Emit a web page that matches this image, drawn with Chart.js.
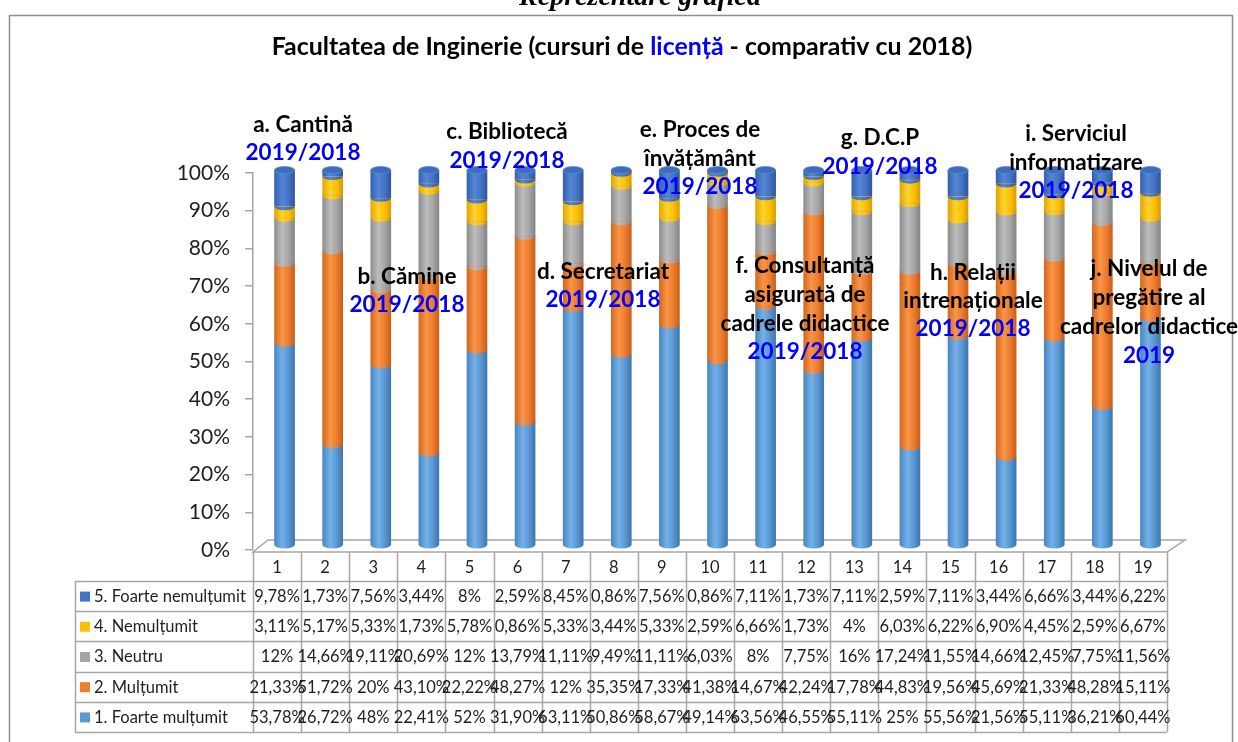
<!DOCTYPE html>
<html><head><meta charset="utf-8">
<script src="https://cdn.jsdelivr.net/npm/chart.js@4"></script>
<style>
html,body{margin:0;padding:0;background:#fff;}
#wrap{position:relative;width:1238px;height:742px;}
canvas{display:block;}
</style>
</head><body>
<div id="wrap"><canvas id="c" width="1238" height="742"></canvas></div>
<script>
// ---------- DATA ----------
const categories = ['1','2','3','4','5','6','7','8','9','10','11','12','13','14','15','16','17','18','19'];
const seriesNames = ['1. Foarte mulțumit','2. Mulțumit','3. Neutru','4. Nemulțumit','5. Foarte nemulțumit'];
const foarteMultumit   = [53.78,26.72,48,22.41,52,31.90,63.11,50.86,58.67,49.14,63.56,46.55,55.11,25,55.56,21.56,55.11,36.21,60.44];
const multumit         = [21.33,51.72,20,43.10,22.22,48.27,12,35.35,17.33,41.38,14.67,42.24,17.78,44.83,19.56,45.69,21.33,48.28,15.11];
const neutru           = [12,14.66,19.11,20.69,12,13.79,11.11,9.49,11.11,6.03,8,7.75,16,17.24,11.55,14.66,12.45,7.75,11.56];
const nemultumit       = [3.11,5.17,5.33,1.73,5.78,0.86,5.33,3.44,5.33,2.59,6.66,1.73,4,6.03,6.22,6.90,4.45,2.59,6.67];
const foarteNemultumit = [9.78,1.73,7.56,3.44,8,2.59,8.45,0.86,7.56,0.86,7.11,1.73,7.11,2.59,7.11,3.44,6.66,3.44,6.22];
const yTickValues = [0,10,20,30,40,50,60,70,80,90,100];
const titleParts = [['Facultatea de Inginerie (cursuri de ', 'k'], ['licență', 'b'], [' - comparativ cu 2018)', 'k']];
const topCaption = 'Reprezentare grafică';
// annotation text boxes: [lines, colour code]
const annotationTexts = [
  [['a. Cantină','k'],['2019/2018','b']],
  [['b. Cămine','k'],['2019/2018','b']],
  [['c. Bibliotecă','k'],['2019/2018','b']],
  [['d. Secretariat','k'],['2019/2018','b']],
  [['e. Proces de','k'],['învățământ','k'],['2019/2018','b']],
  [['f. Consultanță','k'],['asigurată de','k'],['cadrele didactice','k'],['2019/2018','b']],
  [['g. D.C.P','k'],['2019/2018','b']],
  [['h. Relații','k'],['intrenaționale','k'],['2019/2018','b']],
  [['i. Serviciul','k'],['informatizare','k'],['2019/2018','b']],
  [['j. Nivelul de','k'],['pregătire al','k'],['cadrelor didactice','k'],['2019','b']]
];

// ---------- LAYOUT / STYLE ----------
const annotationPos = [ // centre x, first line y, line step
  [303,125,28],[407,277,28],[507,132,29],[603,272,28],[700,130,28.5],
  [805,266,28.7],[880,138,29],[973,273,28],[1076,134,28.5],[1149,269,29]
];
const seriesColors = ['#5B9BD5','#ED7D31','#A5A5A5','#FFC000','#4472C4'];
const gradStops = [
  ['#4a86c2','#74b0e8','#5a97d2','#3f76ad'],
  ['#d2691f','#fb9446','#ec7c30','#c85f16'],
  ['#8e8e8e','#bdbdbd','#a6a6a6','#858585'],
  ['#e0a800','#ffd22e','#ffc000','#d69e00'],
  ['#3562ad','#5585d8','#4473c4','#2f5699']
];
const FONT = 'Lato, "Open Sans", "DejaVu Sans", sans-serif';
const AX = '#a6a6a6';
const BLUE = '#0000FF';
const TEXT = '#1e1e1e';
const barShift = 7.5; // px, 3D perspective shift of bars
const barLift = 5;    // px, bars stand on the back of the floor

const fmt = v => (Number.isInteger(v) ? String(v) : v.toFixed(2).replace('.', ',')) + '%';
const allSeries = [foarteMultumit, multumit, neutru, nemultumit, foarteNemultumit];
// 100% stacked: each column is scaled to its own total
const totals = categories.map((_, i) => allSeries.reduce((s, a) => s + a[i], 0));

const gradCache = {};
function barGradient(chart, dsIndex, x, w) {
  if (!isFinite(x) || !isFinite(w)) return seriesColors[dsIndex];
  const key = dsIndex + '_' + Math.round(x*10) + '_' + Math.round(w);
  if (gradCache[key]) return gradCache[key];
  const g = chart.ctx.createLinearGradient(x - w/2, 0, x + w/2, 0);
  const s = gradStops[dsIndex];
  g.addColorStop(0, s[0]); g.addColorStop(0.38, s[1]); g.addColorStop(0.7, s[2]); g.addColorStop(1, s[3]);
  gradCache[key] = g;
  return g;
}

const datasets = allSeries.map((arr, d) => ({
  label: seriesNames[d],
  data: arr.map((v, i) => ({x: i + 1, y: v / totals[i] * 100})),
  xAxisID: 'xb', yAxisID: 'yb',
  barThickness: 20,
  borderWidth: 0,
  clip: false,
  backgroundColor: (c) => {
    if (c.type !== 'data') return seriesColors[d];
    const xs = c.chart.scales.xb;
    if (!xs) return seriesColors[d];
    const x = xs.getPixelForValue(c.dataIndex + 1);
    return barGradient(c.chart, d, x, 20);
  }
}));

const pagePlugin = {
  id: 'page',
  afterLayout(chart) {
    const ca = chart.chartArea;
    const xb = chart.scales.xb, yb = chart.scales.yb;
    xb.left = ca.left + barShift; xb.right = ca.right + barShift; xb.width = ca.right - ca.left;
    xb.top = ca.top; xb.bottom = ca.bottom;
    xb.configure();
    yb.top = ca.top - 3; yb.bottom = ca.bottom - barLift; yb.height = yb.bottom - yb.top;
    yb.left = ca.left; yb.right = ca.left;
    yb.configure();
  },
  beforeDraw(chart) {
    const ctx = chart.ctx;
    ctx.save();
    ctx.fillStyle = '#fff';
    ctx.fillRect(0, 0, chart.width, chart.height);
    // clipped caption at the very top
    ctx.font = 'italic bold 28px "Liberation Serif", "DejaVu Serif", serif';
    ctx.fillStyle = '#000';
    ctx.textAlign = 'center';
    ctx.textBaseline = 'alphabetic';
    ctx.fillText(topCaption, 640, 5);
    // outer frame
    ctx.strokeStyle = '#8f8f8f';
    ctx.lineWidth = 1.5;
    ctx.strokeRect(9.5, 15.5, 1223, 800);
    // title with mixed colours
    let size = 20;
    ctx.font = 'bold ' + size + 'px ' + FONT;
    let tw = titleParts.reduce((s, p) => s + ctx.measureText(p[0]).width, 0);
    size = size * 701 / tw;
    ctx.font = 'bold ' + size + 'px ' + FONT;
    tw = titleParts.reduce((s, p) => s + ctx.measureText(p[0]).width, 0);
    let x = 622 - tw / 2;
    ctx.textAlign = 'left';
    ctx.textBaseline = 'middle';
    titleParts.forEach(p => {
      ctx.fillStyle = p[1] === 'b' ? BLUE : '#000';
      ctx.fillText(p[0], x, 47);
      x += ctx.measureText(p[0]).width;
    });
    ctx.restore();
  },
  beforeDatasetsDraw(chart) {
    const ctx = chart.ctx, ca = chart.chartArea;
    const yFront = chart.scales.y.getPixelForValue(0) + 2;
    ctx.save();
    ctx.beginPath();
    ctx.moveTo(ca.left, yFront);
    ctx.lineTo(ca.right, yFront);
    ctx.lineTo(ca.right + 18, yFront - 12);
    ctx.lineTo(ca.left + 15, yFront - 12);
    ctx.closePath();
    ctx.fillStyle = '#fff';
    ctx.fill();
    ctx.strokeStyle = AX;
    ctx.lineWidth = 1.5;
    ctx.stroke();
    ctx.restore();
  },
  afterDatasetsDraw(chart) {
    const ctx = chart.ctx;
    ctx.save();
    const n = categories.length;
    for (let i = 0; i < n; i++) {
      for (let d = 0; d < allSeries.length; d++) {
        const el = chart.getDatasetMeta(d).data[i];
        if (!el) continue;
        const {x, base, width} = el.getProps(['x', 'base', 'width'], true);
        if (!isFinite(x) || !isFinite(base)) continue;
        ctx.beginPath();
        ctx.ellipse(x, base, width / 2, 3.5, 0, 0, Math.PI);
        ctx.fillStyle = barGradient(chart, d, x, width);
        ctx.fill();
      }
      const top = chart.getDatasetMeta(allSeries.length - 1).data[i];
      if (top) {
        const {x, y, width} = top.getProps(['x', 'y', 'width'], true);
        if (isFinite(x) && isFinite(y)) {
          ctx.beginPath();
          ctx.ellipse(x, y, width / 2, 3.5, 0, 0, Math.PI * 2);
          ctx.fillStyle = '#3d6bbd';
          ctx.fill();
          ctx.strokeStyle = '#5a88d6';
          ctx.lineWidth = 0.8;
          ctx.stroke();
        }
      }
    }
    // annotation text boxes
    ctx.font = 'bold 22.5px ' + FONT;
    ctx.textAlign = 'center';
    ctx.textBaseline = 'middle';
    annotationTexts.forEach((lines, k) => {
      const [cx, y0, step] = annotationPos[k];
      lines.forEach((ln, j) => {
        ctx.fillStyle = ln[1] === 'b' ? BLUE : '#000';
        ctx.fillText(ln[0], cx, y0 + j * step);
      });
    });
    ctx.restore();
  },
  afterDraw(chart) {
    const ctx = chart.ctx, ca = chart.chartArea;
    const L = ca.left, R = ca.right;
    const cw = (R - L) / categories.length;
    const headTop = chart.scales.y.getPixelForValue(0) + 2;
    const rowTop = 581, rowH = 30.2, nRows = 5, legL = 75;
    const bottom = rowTop + nRows * rowH;
    ctx.save();
    ctx.strokeStyle = AX;
    ctx.lineWidth = 1.5;
    ctx.beginPath();
    for (let k = 0; k <= categories.length; k++) {
      const x = Math.round(L + k * cw) + 0.5;
      ctx.moveTo(x, headTop); ctx.lineTo(x, bottom);
    }
    ctx.moveTo(legL + 0.5, rowTop); ctx.lineTo(legL + 0.5, bottom);
    for (let r = 0; r <= nRows; r++) {
      const y = Math.round(rowTop + r * rowH) + 0.5;
      ctx.moveTo(legL, y); ctx.lineTo(R, y);
    }
    ctx.stroke();
    ctx.font = '16.5px ' + FONT;
    ctx.textBaseline = 'middle';
    for (let r = 0; r < nRows; r++) {
      const d = allSeries.length - 1 - r;
      const yc = rowTop + r * rowH + rowH / 2 + 0.5;
      ctx.fillStyle = seriesColors[d];
      ctx.fillRect(80, yc - 5, 10, 10);
      ctx.fillStyle = TEXT;
      ctx.textAlign = 'left';
      ctx.fillText(chart.data.datasets[d].label, 94, yc);
      ctx.textAlign = 'center';
      allSeries[d].forEach((v, i) => {
        ctx.fillText(fmt(v), L + (i + 0.5) * cw, yc);
      });
    }
    ctx.restore();
  }
};

new Chart(document.getElementById('c'), {
  type: 'bar',
  data: { labels: categories, datasets },
  options: {
    responsive: false,
    animation: false,
    events: [],
    layout: { padding: { left: 0, top: 173, right: 71, bottom: 0 } },
    plugins: { legend: { display: false }, title: { display: false }, tooltip: { enabled: false } },
    scales: {
      x: {
        type: 'category', position: 'bottom', offset: true,
        grid: { display: false, drawTicks: false },
        border: { display: false },
        ticks: { color: TEXT, font: { family: FONT, size: 16.5 }, padding: 8, maxRotation: 0, autoSkip: false },
        afterFit: s => { s.height = 192; }
      },
      xb: {
        type: 'linear', display: false, stacked: true, offset: false,
        min: 0.5, max: 19.5
      },
      y: {
        type: 'linear', position: 'left', min: 0, max: 100,
        afterBuildTicks: s => { s.ticks = yTickValues.map(v => ({value: v})); },
        grid: { drawOnChartArea: false, drawTicks: true, tickLength: 8, color: AX, lineWidth: 1.5 },
        border: { display: true, color: AX, width: 1.5 },
        ticks: { color: TEXT, font: { family: FONT, size: 21 }, padding: 15, callback: v => v + '%' },
        afterFit: s => { s.width = 253; }
      },
      yb: {
        type: 'linear', display: false, stacked: true,
        min: 0, max: 100
      }
    }
  },
  plugins: [pagePlugin]
});
</script>
</body></html>
